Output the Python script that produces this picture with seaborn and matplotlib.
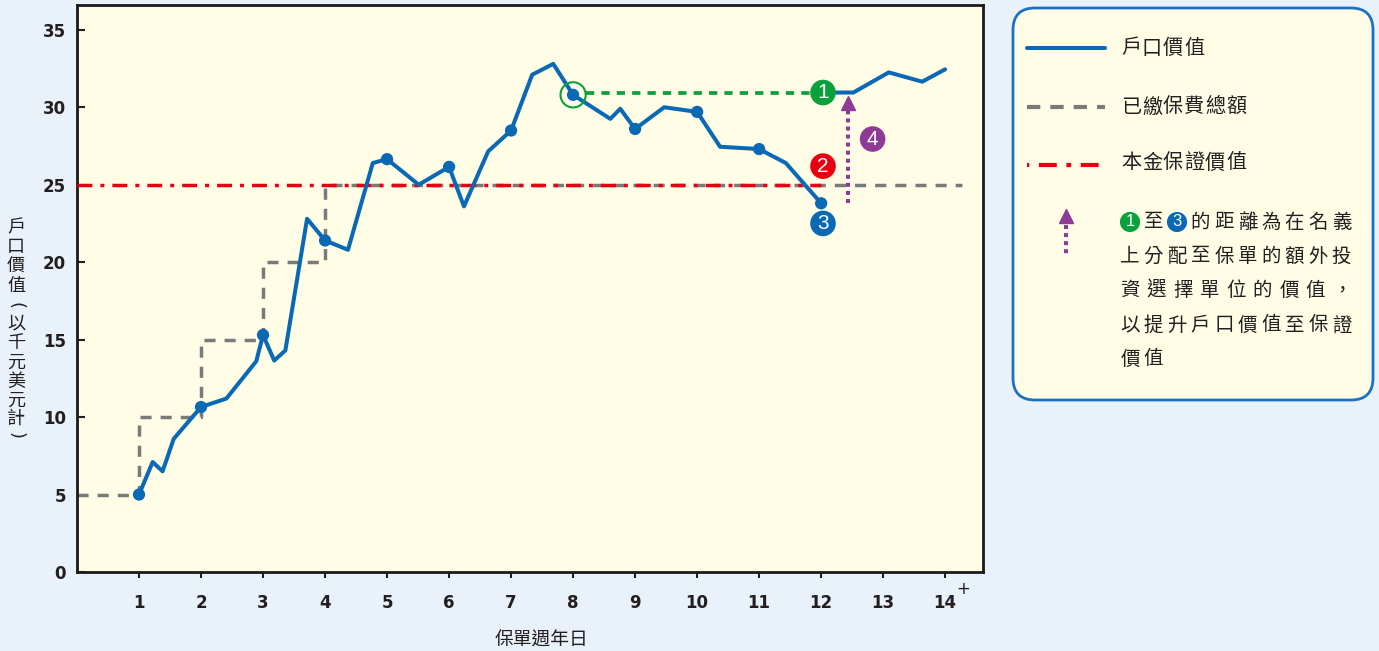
import numpy as np
import pandas as pd
import matplotlib
matplotlib.use("Agg")
import matplotlib.pyplot as plt
import seaborn as sns
from matplotlib.patches import FancyBboxPatch

# ---- data ----
years = [1, 1.22, 1.38, 1.56, 2, 2.41, 2.89, 3, 3.18, 3.36, 3.71, 4, 4.37, 4.77, 5,
         5.51, 6, 6.24, 6.63, 7, 7.34, 7.68, 8, 8.6, 8.76, 9, 9.47, 10, 10.37, 11,
         11.43, 12]
account_value = [5.0, 7.1, 6.5, 8.6, 10.65, 11.2, 13.6, 15.3, 13.65, 14.3, 22.8, 21.4,
                 20.8, 26.4, 26.65, 25.0, 26.15, 23.6, 27.15, 28.5, 32.1, 32.8, 30.8,
                 29.25, 29.9, 28.6, 30.0, 29.7, 27.45, 27.3, 26.4, 23.8]
boost_years = [12, 12.52, 13.09, 13.63, 14.0]
boost_value = [30.95, 30.95, 32.25, 31.65, 32.45]
premium_years = [0, 1, 2, 3, 4, 14.27]
premium_paid = [5, 10, 15, 20, 25, 25]
guarantee_years = [0, 12]
guarantee_value = [25, 25]
lock_year = 8
lock_value = 30.8
lock_line_years = [8.2, 12]
arrow_year = 12.44

x_ticks = list(range(1, 15))
y_ticks = [0, 5, 10, 15, 20, 25, 30, 35]
xlabel = "保單週年日"
ylabel_chars = ["戶", "口", "價", "值", "(", "以", "千", "元", "美", "元", "計", ")"]
legend_labels = ["戶口價值", "已繳保費總額", "本金保證價值"]
note_lines = ["❶至❸的距離為在名義", "上分配至保單的額外投", "資選擇單位的價值，",
              "以提升戶口價值至保證", "價值"]

BG = "#e9f1fb"
PANEL = "#fffde6"
BLUE = "#0a69b5"
GRAY = "#7a7a7a"
RED = "#e60012"
GREEN = "#0aa03c"
PURPLE = "#8e3b96"
INK = "#231f20"

sns.set_theme(style="white")
plt.rcParams["font.family"] = ["DejaVu Sans", "Noto Sans CJK TC"]
CJK = ["Noto Sans CJK TC", "DejaVu Sans"]

fig = plt.figure(figsize=(13.79, 6.51), dpi=100, facecolor=BG)
ax = fig.add_axes([77 / 1379, 1 - 572 / 651, 906 / 1379, 567 / 651])
ax.set_facecolor(PANEL)

acct = pd.DataFrame({"year": years, "value": account_value})
marked = acct[acct["year"] % 1 == 0]

sns.lineplot(x=premium_years, y=premium_paid, ax=ax, color=GRAY, lw=2.5,
             drawstyle="steps-post", linestyle=(0, (3.2, 2.6)),
             estimator=None, sort=False, legend=False, zorder=2)
sns.lineplot(x=guarantee_years, y=guarantee_value, ax=ax, color=RED, lw=2.5,
             linestyle=(0, (4.3, 2.3, 1.15, 2.3)),
             estimator=None, sort=False, legend=False, zorder=3)
sns.lineplot(x=lock_line_years, y=[boost_value[0]] * 2, ax=ax, color=GREEN, lw=2.7,
             linestyle=(0, (2.2, 1.9)), estimator=None, sort=False, legend=False, zorder=3)
sns.lineplot(data=acct, x="year", y="value", ax=ax, color=BLUE, lw=2.9,
             estimator=None, sort=False, legend=False, zorder=4, solid_joinstyle="round")
sns.lineplot(x=boost_years, y=boost_value, ax=ax, color=BLUE, lw=2.9,
             estimator=None, sort=False, legend=False, zorder=4, solid_joinstyle="round")
sns.scatterplot(data=marked, x="year", y="value", ax=ax, color=BLUE, s=78,
                edgecolor="none", legend=False, zorder=5)
ax.scatter([lock_year], [lock_value], s=330, facecolor="none", edgecolor=GREEN,
           lw=1.5, zorder=6)

# dotted arrow
sns.lineplot(x=[arrow_year, arrow_year], y=[account_value[-1], boost_value[0] - 1.05],
             ax=ax, color=PURPLE, lw=2.9, linestyle=(0, (1, 1)),
             estimator=None, sort=False, legend=False, zorder=3)
ax.plot(arrow_year, boost_value[0] - 0.65, marker="^", ms=10, color=PURPLE, zorder=3)


def badge(a, x, y, n, color, s=340, fs=15):
    a.scatter([x], [y], s=s, color=color, edgecolor="none", zorder=7)
    a.text(x, y, str(n), color="white", ha="center", va="center", fontsize=fs,
           family=["Liberation Sans"], zorder=8)


badge(ax, 12.03, boost_value[0], 1, GREEN)
badge(ax, 12.03, guarantee_value[0] + 1.2, 2, RED)
badge(ax, 12.03, account_value[-1] - 1.3, 3, BLUE)
badge(ax, arrow_year + 0.39, 27.95, 4, PURPLE)

ax.set_xlim(0, 14.61)
ax.set_ylim(0, 36.6)
ax.set_xticks(x_ticks)
ax.set_xticklabels([str(v) for v in x_ticks])
ax.set_yticks(y_ticks)
ax.set_yticklabels([str(v) for v in y_ticks])
ax.tick_params(axis="y", direction="in", length=5.8, width=1.5, pad=8,
               labelsize=12, colors=INK, left=True)
ax.tick_params(axis="x", direction="out", length=4.3, width=1.5, pad=11.6,
               labelsize=12, colors=INK, bottom=True)
for lbl in ax.get_xticklabels() + ax.get_yticklabels():
    lbl.set_fontweight("bold")
for sp in ax.spines.values():
    sp.set_color("#1a1a1a")
    sp.set_linewidth(2)
ax.set_xlabel(xlabel, fontsize=13.5, color=INK, family=CJK, va="center")
ax.xaxis.set_label_coords((541.7 - 77) / 906, (572 - 640) / 567)
ax.set_ylabel("")

# ---- overlay in pixel coordinates ----
ov = fig.add_axes([0, 0, 1, 1], facecolor="none")
ov.set_xlim(0, 1379)
ov.set_ylim(651, 0)
ov.axis("off")

ov.text(963, 589, "+", fontsize=12, ha="center", va="center", color=INK)

ylab_y = [227, 247, 266, 286, 305, 323, 343, 363, 382, 401, 419, 436]
for ch, yy in zip(ylabel_chars, ylab_y):
    if ch in "()":
        ov.text(16, yy, ch, fontsize=13, ha="center", va="center", color=INK,
                rotation=-90, family=["DejaVu Sans"])
    else:
        ov.text(16, yy, ch, fontsize=13, ha="center", va="center", color=INK,
                family=CJK, fontweight="medium")

box = FancyBboxPatch((1013, 8), 360, 392, boxstyle="round,pad=0,rounding_size=22",
                     facecolor=PANEL, edgecolor="#1c72c0", lw=2)
ov.add_patch(box)

ov.plot([1027, 1105], [48, 48], color=BLUE, lw=2.9)
ov.plot([1027, 1105], [107, 107], color=GRAY, lw=3, linestyle=(0, (3.2, 2.4)))
ov.plot([1027, 1105], [165, 165], color=RED, lw=3, linestyle=(0.6, (1.15, 2.3, 4.3, 2.3)))
for label, yy in zip(legend_labels, [48, 107, 163]):
    for i, ch in enumerate(label):
        ov.text(1131 + 21 * i, yy, ch, fontsize=14.5, ha="center", va="center",
                color=INK, family=CJK)

# legend arrow
ov.plot([1065.7, 1065.7], [225, 254], color=PURPLE, lw=2.9, linestyle=(0, (1, 1)))
ov.plot(1065.7, 215.5, marker="^", ms=10, color=PURPLE)

line_y = [222, 256, 290, 325, 359]
for li, (txt, yy) in enumerate(zip(note_lines, line_y)):
    pitch = 23.5 if len(txt) >= 10 or li == len(note_lines) - 1 else 212 / (len(txt) - 1)
    for i, ch in enumerate(txt):
        cx = 1130 + pitch * i
        if ch == "❶":
            badge(ov, cx, yy, 1, GREEN, s=210, fs=12)
        elif ch == "❸":
            badge(ov, cx, yy, 3, BLUE, s=210, fs=12)
        else:
            ov.text(cx, yy, ch, fontsize=14, ha="center", va="center", color=INK,
                    family=CJK)

fig.savefig("out.png", dpi=100, facecolor=BG)
